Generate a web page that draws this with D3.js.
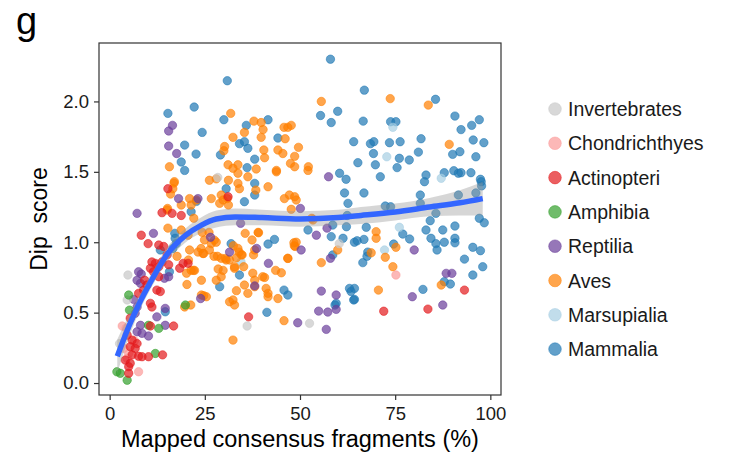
<!DOCTYPE html>
<html>
<head>
<meta charset="utf-8">
<script src="https://cdn.jsdelivr.net/npm/d3@7"></script>
<style>
  body { margin: 0; background: #fff; }
  text { font-family: "Liberation Sans", Arial, sans-serif; }
</style>
</head>
<body>
<div id="chart"></div>
<script>
// species order used in legend
const species = ["Invertebrates", "Chondrichthyes", "Actinopteri", "Amphibia", "Reptilia", "Aves", "Marsupialia", "Mammalia"];
const colors = ["#c8c8c8", "#fb9a99", "#e31a1c", "#33a02c", "#6a3d9a", "#ff7f00", "#a6cee3", "#1f78b4"];

// [mapped %, dip score]
const invertebrates = [[4.8,0.767],[4.6,0.59],[2.6,0.28],[36.1,0.405],[52.5,0.424],[28.4,1.46],[60.3,0.99]];
const chondrichthyes = [[3.3,0.405],[4.3,0.39],[3.7,0.246],[5.0,0.21],[4.6,0.175],[7.6,0.08],[6.5,0.30],[75.2,0.767]];
const actinopteri = [[13.75,1.21],[16.4,1.205],[18.8,1.19],[8.3,1.05],[10.1,0.99],[12.9,0.98],[14.2,0.97],[15.1,0.91],
  [11.1,0.86],[12.0,0.85],[12.9,0.826],[13.75,0.86],[15.5,0.84],[10.7,0.815],[11.5,0.79],[12.9,0.755],[9.2,0.73],[9.8,0.696],
  [8.9,0.66],[7.6,0.637],[12.4,0.66],[13.3,0.65],[10.7,0.566],[11.1,0.54],[5.4,0.46],[10.7,0.405],[16.8,0.405],[4.6,0.34],
  [5.9,0.305],[7.2,0.28],[5.4,0.258],[6.7,0.246],[5.9,0.20],[7.6,0.19],[8.5,0.187],[10.2,0.187],[13.9,0.20],[5.4,0.14],
  [5.0,0.116],[5.0,0.069],[4.1,0.163],[18.4,0.815],[19.3,0.85],[20.6,0.85],[15.3,1.38],[31.1,1.323],[36.5,0.47],[72,0.51],
  [83.6,0.525],[93.2,0.66]];
const amphibia = [[5.0,0.625],[5.2,0.518],[10.2,0.41],[12.9,0.388],[12.0,0.21],[1.9,0.08],[2.8,0.069],[4.6,0.02],[19.9,0.554]];
const reptilia = [[16.5,1.83],[15.5,1.79],[15.5,1.683],[17.6,1.63],[18.1,1.31],[23.2,1.31],[7.2,1.205],[11.5,1.063],[7.6,0.79],
  [8.3,0.774],[7.2,0.73],[8.1,0.708],[15.5,0.755],[14.4,0.744],[6.3,0.594],[7.2,0.54],[6.7,0.495],[14.6,0.53],[12.4,0.47],
  [8.1,0.41],[7.2,0.364],[8.5,0.353],[10.2,0.334],[14.6,0.41],[26.5,1.035],[31.5,0.93],[34.4,1.134],[38.6,0.956],[50.1,1.24],
  [50.3,0.945],[57.5,1.465],[57.1,1.10],[54.3,1.05],[41.7,0.85],[80,0.945],[58,0.886],[55.6,0.653],[59.5,0.625],[54.9,0.511],
  [57.3,0.504],[59.5,0.523],[56.9,0.381],[49.4,0.428],[79.5,0.613],[87.5,0.554],[88.4,0.779],[89.9,0.779],[38.1,0.69],[23.9,0.60]];
const aves = [[55.6,2.0],[73.7,2.02],[83.7,1.974],[31.8,1.915],[32.4,1.745],[30.2,1.68],[30.0,1.65],[15.7,1.536],[31.1,1.55],
  [32.4,1.525],[33.7,1.55],[37.9,1.86],[39.8,1.85],[40.3,1.80],[39.8,1.745],[35.4,1.78],[45.8,1.816],[46.8,1.816],[47.7,1.83],
  [46.1,1.735],[40.5,1.655],[40.7,1.60],[44.2,1.655],[45.5,1.63],[49.6,1.674],[48.6,1.61],[47.5,1.56],[48.6,1.536],[52.2,1.536],
  [38.5,1.52],[43.8,1.51],[89.2,1.695],[70,1.075],[70,1.028],[75.2,0.964],[68.7,0.925],[72.4,0.893],[74.4,0.826],[87.1,0.696],
  [70.6,0.66],[33.7,1.49],[36.3,1.465],[43.8,1.50],[52.1,1.51],[33.7,1.418],[34.1,1.38],[41.6,1.394],[45.9,1.31],[47.2,1.335],
  [48.6,1.323],[49,1.30],[47.7,1.234],[53.4,1.158],[35.6,1.063],[39.1,1.067],[37.4,1.016],[38.1,0.945],[33.7,0.956],[34.6,0.91],
  [48.4,0.996],[48.7,0.97],[59.9,0.945],[46.8,0.886],[55.6,0.855],[32.8,0.815],[37.6,0.78],[38.1,0.73],[40.7,0.75],[45.1,0.783],
  [35.4,0.696],[38.1,0.684],[41.1,0.672],[33.3,0.656],[36.3,0.637],[41.6,0.613],[44.2,0.60],[32.4,0.59],[41.6,0.637],[32.4,0.305],
  [45.8,0.443],[16.9,1.42],[16.6,1.38],[26.2,1.44],[28,1.45],[29.3,1.335],[28.9,1.276],[30.9,1.31],[31.2,1.264],[21,1.31],
  [21.4,1.264],[18.8,1.264],[16,1.342],[15.1,1.229],[15.3,1.10],[18.8,1.087],[20.6,1.05],[21,0.945],[20.7,0.874],[23.2,0.93],
  [24.5,0.92],[24.9,1.016],[26.7,0.99],[28,1.0],[26.2,0.945],[21.4,0.80],[24.1,0.73],[28,0.73],[29.3,0.755],[31.5,0.577],
  [32.8,0.554],[20.3,0.70],[22.3,0.80],[24.1,0.625],[25.4,0.613],[19.7,0.54],[21.3,0.554],[29.3,0.886],[30.6,0.874],[31.5,0.874],
  [29.8,0.80],[32.8,0.826],[26.7,1.31],[29.8,1.30],[31.2,1.44],[30.4,0.885],[28.5,0.81],[34.0,0.93],[34.8,0.91],[33.3,0.89],
  [39.0,1.07],[35.2,0.826],[40.2,0.755],[43.6,0.80],[46.8,0.885],[48.5,0.975],[49.0,1.00],[53.1,1.17],[24.7,0.62],[20.2,0.78],
  [22.0,0.80],[24.0,0.955],[24.7,0.92],[27.4,0.90],[28.3,0.90],[32.5,0.975],[26.1,1.07],[27.5,1.015],[17.7,0.90],[22.8,1.30],
  [22.1,1.17],[24.3,1.07],[15.2,1.24],[17.0,1.43],[38.4,1.37],[37.8,0.91]];
const marsupialia = [[74.4,1.816],[72.8,1.607],[87.1,1.454],[76.1,1.106],[72.2,0.945],[34.5,0.86]];
const mammalia = [[58,2.30],[30.9,2.147],[66.9,2.08],[85.6,2.015],[22.2,1.96],[15.3,1.915],[55.4,1.90],[59.9,1.93],[58.2,1.85],
  [66.6,1.86],[30.0,1.87],[41.6,1.87],[24.3,1.78],[19.7,1.69],[22.7,1.626],[18.8,1.57],[19.7,1.51],[34.1,1.70],[29.1,1.62],
  [35.9,1.83],[35.4,1.714],[36.3,1.667],[38.1,1.59],[44.2,1.74],[36.1,1.53],[64.1,1.714],[65.2,1.565],[68.5,1.70],[73.8,1.856],
  [75.2,1.856],[90.7,1.896],[97.1,1.87],[95.1,1.83],[92.3,1.80],[69.4,1.714],[69.3,1.63],[69.8,1.55],[73.5,1.707],[76.3,1.714],
  [81.8,1.735],[81.1,1.64],[76.1,1.596],[78.7,1.584],[75.5,1.53],[90.1,1.624],[92.0,1.643],[95.5,1.726],[98.3,1.707],[96.2,1.607],
  [71.1,1.465],[83.1,1.477],[87.9,1.494],[90.4,1.508],[91.6,1.49],[92.3,1.494],[94.9,1.494],[97.4,1.447],[60.4,1.49],[62.1,1.447],
  [82.7,1.43],[97.6,1.43],[97.7,1.40],[66.8,1.35],[81.6,1.335],[81.6,1.276],[91.6,1.335],[96.2,1.35],[72.4,1.257],[73.8,1.252],
  [85.7,1.205],[97.1,1.17],[98.4,1.138],[84.2,1.153],[67.4,1.106],[83.1,1.087],[87.5,1.087],[90.7,1.115],[77,1.058],[78.8,1.023],
  [84.4,1.028],[85.7,0.99],[87.9,1.0],[90.7,1.028],[90.7,0.996],[86,0.945],[66.8,1.02],[74.6,0.987],[67.6,0.90],[66.5,0.855],
  [95.4,0.964],[97.4,0.94],[93.2,0.88],[98,0.826],[95.4,0.767],[87.9,0.72],[89.5,0.703],[82.3,0.665],[61.7,1.35],
  [62.6,1.276],[38.1,1.418],[38.1,1.335],[35.4,1.288],[52.1,1.087],[58.6,1.122],[58.2,1.04],[61.3,1.028],[64.3,1.0],[65,1.01],
  [43.3,1.02],[41.6,0.987],[31.9,0.99],[67.8,0.93],[58.6,0.91],[34.1,0.767],[45.8,0.66],[46.8,0.625],[63,0.672],[64.3,0.672],
  [63.4,0.65],[64.3,0.594],[59.5,0.566],[41.3,0.502],[59.2,0.554],[64.1,0.59],[17.1,1.063],[17.2,1.028],[17.5,0.99],[16.6,0.956],
  [30.6,1.38],[21.4,1.217],[28.9,0.684],[13.3,0.945],[15.7,0.79],[14.6,0.506],[62.4,1.19],[62.2,1.11],[22.8,1.29]];

// loess fit and its confidence band
const smoothX  = [2, 5, 7.5, 11, 15, 20, 24, 28, 33, 40, 50, 60, 66, 75, 84, 92, 98];
const smoothY  = [0.19, 0.40, 0.55, 0.73, 0.91, 1.05, 1.12, 1.165, 1.18, 1.175, 1.165, 1.175, 1.19, 1.215, 1.25, 1.28, 1.31];
const smoothSE = [0.12, 0.08, 0.06, 0.05, 0.05, 0.05, 0.055, 0.06, 0.06, 0.055, 0.055, 0.055, 0.06, 0.06, 0.065, 0.09, 0.12];

const xTicks = [0, 25, 50, 75, 100];
const yTicks = [0.0, 0.5, 1.0, 1.5, 2.0];

const groups = [invertebrates, chondrichthyes, actinopteri, amphibia, reptilia, aves, marsupialia, mammalia];

const W = 733, H = 461;
const panel = {left: 99, right: 501, top: 43, bottom: 395};

const svg = d3.select("#chart").append("svg").attr("width", W).attr("height", H);

const x = d3.scaleLinear().domain([-2.8, 102.8]).range([panel.left, panel.right]);
const y = d3.scaleLinear().domain([-0.085, 2.415]).range([panel.bottom, panel.top]);

// points, mammals first so the small groups stay visible
const drawOrder = [7, 6, 5, 4, 0, 1, 3, 2];
drawOrder.forEach(gi => {
  svg.append("g")
    .selectAll("circle")
    .data(groups[gi])
    .enter()
    .append("circle")
    .attr("cx", d => x(d[0]))
    .attr("cy", d => y(d[1]))
    .attr("r", 4.2)
    .attr("fill", colors[gi])
    .attr("fill-opacity", 0.7)
    .attr("stroke", colors[gi])
    .attr("stroke-opacity", 0.55)
    .attr("stroke-width", 1);
});

// smooth + band
const smooth = smoothX.map((v, i) => ({x: v, y: smoothY[i], se: smoothSE[i]}));
const band = d3.area()
  .x(d => x(d.x))
  .y0(d => y(d.y - d.se))
  .y1(d => y(d.y + d.se))
  .curve(d3.curveMonotoneX);
svg.append("path").datum(smooth)
  .attr("d", band)
  .attr("fill", "#999999")
  .attr("fill-opacity", 0.4);

const line = d3.line()
  .x(d => x(d.x))
  .y(d => y(d.y))
  .curve(d3.curveMonotoneX);
svg.append("path").datum(smooth)
  .attr("d", line)
  .attr("fill", "none")
  .attr("stroke", "#3366FF")
  .attr("stroke-width", 5.5);

// panel border
svg.append("rect")
  .attr("x", panel.left).attr("y", panel.top)
  .attr("width", panel.right - panel.left)
  .attr("height", panel.bottom - panel.top)
  .attr("fill", "none")
  .attr("stroke", "#333")
  .attr("stroke-width", 1.2);

// axes
const xAxis = svg.append("g")
  .attr("transform", `translate(0,${panel.bottom})`)
  .call(d3.axisBottom(x).tickValues(xTicks).tickSize(5).tickPadding(7).tickFormat(d3.format("d")));
const yAxis = svg.append("g")
  .attr("transform", `translate(${panel.left},0)`)
  .call(d3.axisLeft(y).tickValues(yTicks).tickSize(5).tickPadding(5).tickFormat(d3.format(".1f")));
[xAxis, yAxis].forEach(a => {
  a.select(".domain").remove();
  a.selectAll(".tick line").attr("stroke", "#333").attr("stroke-width", 1.2);
  a.selectAll("text").attr("fill", "#1a1a1a").style("font-size", "18.5px")
    .style("font-family", "'Liberation Sans', Arial, sans-serif");
});

// titles
svg.append("text")
  .attr("x", (panel.left + panel.right) / 2).attr("y", 447)
  .attr("text-anchor", "middle")
  .style("font-size", "23.5px")
  .attr("fill", "#000")
  .text("Mapped consensus fragments (%)");

svg.append("text")
  .attr("transform", `translate(47,${(panel.top + panel.bottom) / 2}) rotate(-90)`)
  .attr("text-anchor", "middle")
  .style("font-size", "23px")
  .style("white-space", "pre")
  .attr("fill", "#000")
  .text("Dip  score");

svg.append("text")
  .attr("x", 16).attr("y", 34)
  .style("font-size", "38px")
  .attr("fill", "#000")
  .text("g");

// legend
const legend = svg.append("g").attr("transform", "translate(555,109)");
species.forEach((s, i) => {
  const row = legend.append("g").attr("transform", `translate(0,${i * 34.3})`);
  row.append("circle")
    .attr("r", 6.3)
    .attr("fill", colors[i])
    .attr("fill-opacity", 0.7)
    .attr("stroke", colors[i])
    .attr("stroke-opacity", 0.5);
  row.append("text")
    .attr("x", 13).attr("y", 7)
    .style("font-size", "19.5px")
    .attr("fill", "#1a1a1a")
    .text(s);
});
</script>
</body>
</html>
